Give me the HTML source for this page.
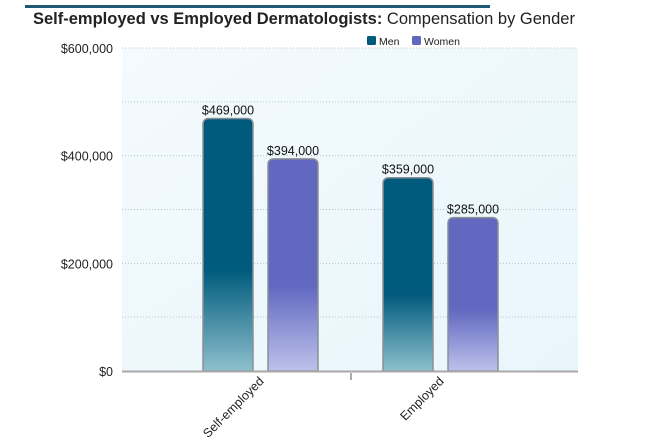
<!DOCTYPE html>
<html><head><meta charset="utf-8">
<style>
body{margin:0;background:#fff;font-family:"Liberation Sans",sans-serif;}
svg{display:block}
</style></head><body>
<svg width="645" height="439" viewBox="0 0 645 439">
<defs>
<linearGradient id="bgGrad" x1="0" y1="0" x2="1" y2="1">
<stop offset="0" stop-color="#f4fafd"/><stop offset="1" stop-color="#e8f6fc"/></linearGradient>
<linearGradient id="menGrad" x1="0" y1="0" x2="0" y2="1">
<stop offset="0" stop-color="#005a7c"/><stop offset="0.6" stop-color="#005a7c"/><stop offset="1" stop-color="#8dc0cd"/></linearGradient>
<linearGradient id="womenGrad" x1="0" y1="0" x2="0" y2="1">
<stop offset="0" stop-color="#6268c0"/><stop offset="0.6" stop-color="#6268c0"/><stop offset="1" stop-color="#bcc2ea"/></linearGradient>
</defs>
<rect x="25" y="5" width="465" height="3" fill="#1e5a74"/>
<text x="33" y="24" font-size="16.5" fill="#222"><tspan font-weight="bold">Self-employed vs Employed Dermatologists:</tspan> Compensation by Gender</text>
<g>
<rect x="367" y="36" width="9" height="9" rx="1.5" fill="#005a7c"/>
<text x="379" y="45" font-size="10.5" fill="#222">Men</text>
<rect x="412" y="36" width="9" height="9" rx="1.5" fill="#6268c0"/>
<text x="424" y="45" font-size="10.5" fill="#222">Women</text>
</g>
<rect x="122" y="48" width="456" height="323" fill="url(#bgGrad)"/>
<g id="grid"></g>
<g id="yaxis"></g>
<g id="bars"></g>
<line x1="122" y1="371.5" x2="578" y2="371.5" stroke="#a8a8a8" stroke-width="2"/>
<line x1="351" y1="373" x2="351" y2="380" stroke="#555" stroke-width="1"/>
<g id="xaxis"></g>
</svg>
<script>
const categories = ["Self-employed", "Employed"];
const menValues = [469000, 359000];
const womenValues = [394000, 285000];
const yTicks = [0, 200000, 400000, 600000];
const yTickLabels = ["$0", "$200,000", "$400,000", "$600,000"];
const gridValues = [100000, 200000, 300000, 400000, 500000, 600000];

const NS = "http://www.w3.org/2000/svg";
const plotTop = 48, plotBottom = 371, yMax = 600000;
function yScale(v){ return plotBottom - (v / yMax) * (plotBottom - plotTop); }
function xCenter(i){ return 260.5 + i * 180; }
function fmt(v){ return "$" + v.toLocaleString("en-US"); }
function mk(tag, attrs){ const e = document.createElementNS(NS, tag); for (const k in attrs) e.setAttribute(k, attrs[k]); return e; }

const grid = document.getElementById("grid");
gridValues.forEach(v => {
  const l = mk("line", {x1:122, x2:578, y1:yScale(v), y2:yScale(v), stroke:"#b8c4c8", "stroke-width":1, "stroke-dasharray":"1,2"});
  
  
  grid.appendChild(l);
});
const yaxis = document.getElementById("yaxis");
yTicks.forEach((v, i) => {
  const t = mk("text", {x:113, y:yScale(v) + 5, "text-anchor":"end", "font-size":"12.5", fill:"#222"});
  t.textContent = yTickLabels[i];
  
  
  yaxis.appendChild(t);
});
const bars = document.getElementById("bars");
function bar(x, v, fill, name){
  const top = yScale(v), w = 50, h = plotBottom - top, r = 6;
  const d = `M${x},${plotBottom} L${x},${top + r} Q${x},${top} ${x + r},${top} L${x + w - r},${top} Q${x + w},${top} ${x + w},${top + r} L${x + w},${plotBottom} Z`;
  const p = mk("path", {d:d, fill:fill, stroke:"#8a8f96", "stroke-width":1.5});
  
  
  bars.appendChild(p);
  const t = mk("text", {x:x + w / 2, y:top - 4, "text-anchor":"middle", "font-size":"12.5", fill:"#111"});
  t.textContent = fmt(v);
  
  
  bars.appendChild(t);
}
categories.forEach((c, i) => {
  const cx = xCenter(i);
  bar(cx - 57.5, menValues[i], "url(#menGrad)", "bar-men-" + i);
  bar(cx + 7.5, womenValues[i], "url(#womenGrad)", "bar-women-" + i);
});
const xaxis = document.getElementById("xaxis");
categories.forEach((c, i) => {
  const x = xCenter(i) + 4, y = 382;
  const t = mk("text", {x:x, y:y, "text-anchor":"end", "font-size":"12.5", fill:"#222", transform:`rotate(-45 ${x} ${y})`});
  t.textContent = c;
  
  
  xaxis.appendChild(t);
});
</script>
</body></html>
